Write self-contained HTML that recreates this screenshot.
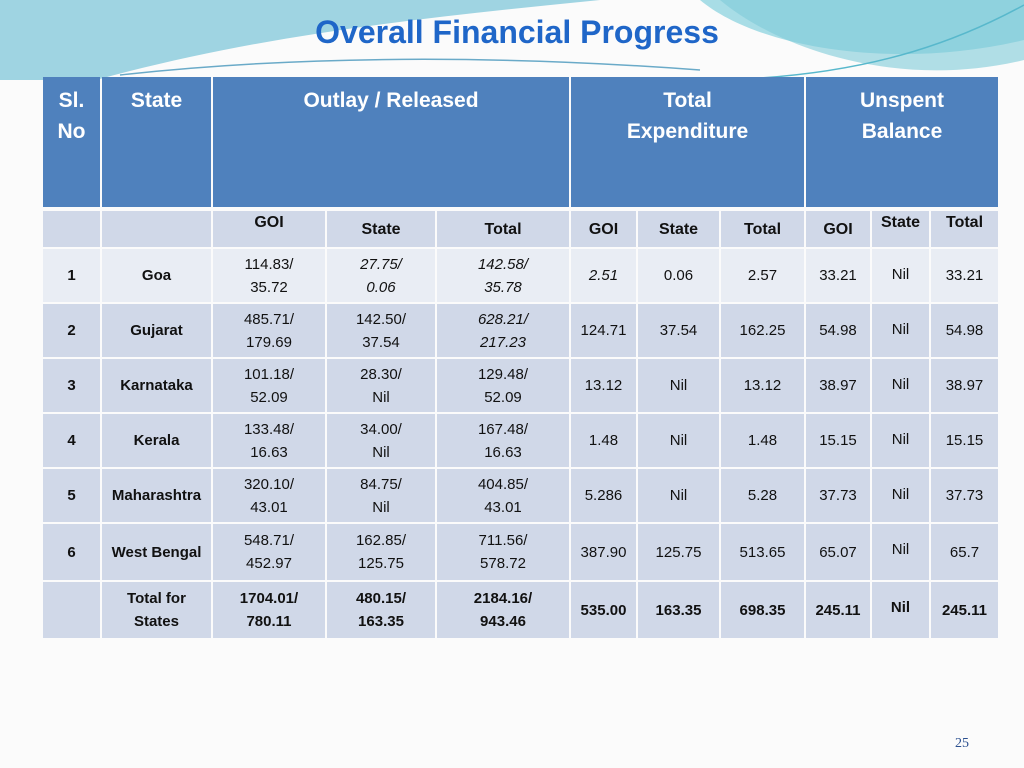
<!DOCTYPE html>
<html><head><meta charset="utf-8">
<style>
body{margin:0;width:1024px;height:768px;overflow:hidden;background:#fbfbfb;font-family:"Liberation Sans",Arial,sans-serif;position:relative}
.c{position:absolute;box-sizing:border-box;display:flex;align-items:center;justify-content:center;text-align:center;color:#111;font-size:15px;line-height:23px}
.h{background:#4f81bd;color:#fff;font-weight:bold;font-size:21px;line-height:31px;align-items:flex-start;padding-top:8px}
#title{position:absolute;left:0;width:1034px;top:14px;text-align:center;color:#1f66c8;font-weight:bold;font-size:32px}
#pg{position:absolute;left:955px;top:736px;font-family:"Liberation Serif",serif;font-size:14px;color:#2a4f8f}
</style></head><body>
<svg width="1024" height="80" style="position:absolute;left:0;top:0">
<path d="M0 0H1024V40C900 70 760 50 700 0Z" fill="#a8dde6"/>
<path d="M0 0H720C780 50 900 90 1024 60V0Z" fill="#7fcbd8" opacity="0.6"/>
<path d="M0 0H600C400 20 200 40 0 110Z" fill="#9fd4e2"/>
<path d="M120 75C300 55 500 55 700 70" stroke="#6aaac8" fill="none" stroke-width="1.5"/>
<path d="M760 78C880 70 960 40 1024 5" stroke="#58b8cc" fill="none" stroke-width="1.5"/>
</svg>
<div id="title">Overall Financial Progress</div>
<div id="tbl"></div>
<div id="pg">25</div>
<script>
const xs=[43,102,213,327,437,571,638,721,806,872,931,998];
const rowY=[248,303,358,413,468,523,581,639];
const rows=[
["1","Goa","114.83/<br>35.72","<i>27.75/<br>0.06</i>","<i>142.58/<br>35.78</i>","<i>2.51</i>","0.06","2.57","33.21","Nil","33.21"],
["2","Gujarat","485.71/<br>179.69","142.50/<br>37.54","<i>628.21/<br>217.23</i>","124.71","37.54","162.25","54.98","Nil","54.98"],
["3","Karnataka","101.18/<br>52.09","28.30/<br>Nil","129.48/<br>52.09","13.12","Nil","13.12","38.97","Nil","38.97"],
["4","Kerala","133.48/<br>16.63","34.00/<br>Nil","167.48/<br>16.63","1.48","Nil","1.48","15.15","Nil","15.15"],
["5","Maharashtra","320.10/<br>43.01","84.75/<br>Nil","404.85/<br>43.01","5.286","Nil","5.28","37.73","Nil","37.73"],
["6","West Bengal","548.71/<br>452.97","162.85/<br>125.75","711.56/<br>578.72","387.90","125.75","513.65","65.07","Nil","65.7"],
["","Total  for<br>States","1704.01/<br>780.11","480.15/<br>163.35","2184.16/<br>943.46","535.00","163.35","698.35","245.11","Nil","245.11"]];
const sub=["","","GOI","State","Total","GOI","State","Total","GOI","State","Total"];
const T=document.getElementById('tbl');
function cell(x1,y1,x2,y2,html,cls,bg){const d=document.createElement('div');d.className='c '+(cls||'');
d.style.cssText+=`left:${x1}px;top:${y1}px;width:${x2-x1}px;height:${y2-y1}px;`+(bg?`background:${bg};`:'');
d.innerHTML=html;T.appendChild(d);return d;}
const heads=[[0,1,"Sl.<br>No"],[1,2,"State"],[2,5,"Outlay / Released"],[5,8,"Total<br>Expenditure"],[8,11,"Unspent<br>Balance"]];
heads.forEach(h=>{const d=cell(xs[h[0]],77,xs[h[1]]-(h[1]==11?0:2),207,h[2],'h');

});
sub.forEach((s,i)=>{const d=cell(xs[i],211,xs[i+1]-(i==10?0:2),247,s,'','#d0d8e8');d.style.fontWeight='bold';d.style.fontSize='16px';
if(i==2||i==9||i==10){d.style.alignItems='flex-start';d.style.paddingTop='0px';}

});
rows.forEach((r,ri)=>{r.forEach((v,i)=>{const d=cell(xs[i],rowY[ri]+1,xs[i+1]-(i==10?0:2),rowY[ri+1]-1,v,'',ri==0?'#e9edf4':'#d0d8e8');
if(i<2||ri==6)d.style.fontWeight='bold';
if(i==9){d.style.alignItems='flex-start';d.style.paddingTop='14px';}

});});
</script>
</body></html>
